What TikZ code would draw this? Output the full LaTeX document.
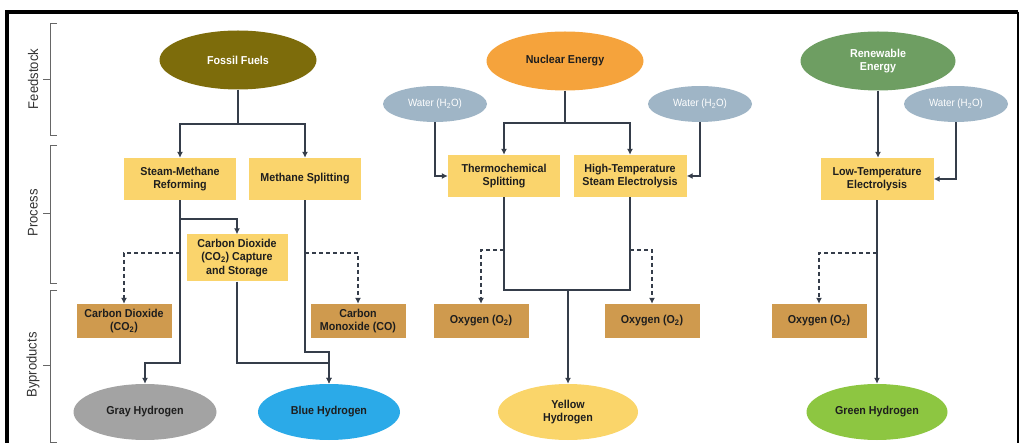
\documentclass[tikz,border=0pt]{standalone}
\usepackage{fontspec}
\setmainfont{Liberation Sans}[FakeStretch=0.93]
\usetikzlibrary{arrows.meta,positioning,calc,shapes.geometric}

\definecolor{fossilcol}{HTML}{7D6C0B}
\definecolor{nuclearcol}{HTML}{F5A33C}
\definecolor{renewcol}{HTML}{6E9E62}
\definecolor{watercol}{HTML}{9FB5C6}
\definecolor{proccol}{HTML}{FAD46C}
\definecolor{bycol}{HTML}{CF9A4E}
\definecolor{graycol}{HTML}{A3A3A3}
\definecolor{bluecol}{HTML}{2BAAE8}
\definecolor{yellowcol}{HTML}{FAD56A}
\definecolor{greencol}{HTML}{8DC641}
\definecolor{linecol}{HTML}{353D4A}
\definecolor{textcol}{HTML}{1E1E1E}

\begin{document}
\begin{tikzpicture}[
    x=1pt, y=-1pt,
    font=\fontsize{11.5}{13.5}\selectfont\bfseries,
    arrow/.style={-{Latex[length=6pt,width=6pt]}, line width=1.2pt, draw=linecol},
    dasharrow/.style={arrow, dash pattern=on 4pt off 3pt},
    link/.style={line width=1.2pt, draw=linecol},
    bracket/.style={line width=0.9pt, draw=gray!80!black},
    sidelabel/.style={font=\fontsize{14}{16}\selectfont, text=gray!40!black, rotate=90},
    srcell/.style={ellipse, inner sep=0pt, minimum width=157pt, minimum height=59pt, align=center, text=white},
    waterell/.style={ellipse, inner sep=0pt, fill=watercol, minimum width=104pt, minimum height=36pt,
        text=white, font=\fontsize{10.5}{12}\selectfont},
    hydell/.style={ellipse, inner sep=0pt, minimum width=142pt, minimum height=56pt, align=center, text=textcol},
    procbox/.style={fill=proccol, minimum width=112pt, minimum height=42pt, inner sep=2pt, align=center, text=textcol},
    bybox/.style={fill=bycol, minimum width=95pt, minimum height=34pt, inner sep=2pt, align=center, text=textcol}
]
\useasboundingbox (0,0) rectangle (1022,443);

% frame
\draw[line width=4pt] (7,450) -- (7,12) -- (1018,12);
\draw[line width=2pt] (1018,12) -- (1018,450);

% stage brackets
\draw[bracket] (57,23) -- (50,23) -- (50,135) -- (57,135);
\draw[bracket] (50,79) -- (43,79);
\draw[bracket] (57,145) -- (50,145) -- (50,283) -- (57,283);
\draw[bracket] (50,213) -- (43,213);
\draw[bracket] (57,290) -- (50,290) -- (50,442) -- (57,442);
\draw[bracket] (50,365) -- (43,365);
\node[sidelabel] (lblfeed) at (33,79) {Feedstock};
\node[sidelabel] (lblproc) at (33,213) {Process};
\node[sidelabel] (lblby) at (33,365) {Byproducts};

% feedstock
\node[srcell, fill=fossilcol] (fossil) at (238,60) {Fossil Fuels};
\node[srcell, fill=nuclearcol, text=textcol] (nuclear) at (565,61) {Nuclear Energy};
\node[srcell, fill=renewcol, minimum width=155pt] (renew) at (878,61) {Renewable\\Energy};
\node[waterell] (waterA) at (435,104) {Water (H\textsubscript{2}O)};
\node[waterell] (waterB) at (700,104) {Water (H\textsubscript{2}O)};
\node[waterell] (waterC) at (956,104) {Water (H\textsubscript{2}O)};

% process
\node[procbox] (smr) at (180,179) {Steam-Methane\\Reforming};
\node[procbox] (msplit) at (305,179) {Methane Splitting};
\node[procbox, minimum width=101pt, minimum height=47pt] (ccs) at (237,258) {Carbon Dioxide\\(CO\textsubscript{2}) Capture\\and Storage};
\node[procbox] (thermo) at (504,176) {Thermochemical\\Splitting};
\node[procbox, minimum width=113pt] (htse) at (630,176) {High-Temperature\\Steam Electrolysis};
\node[procbox, minimum width=113pt] (lte) at (877,179) {Low-Temperature\\Electrolysis};

% byproducts
\node[bybox] (co2) at (124,321) {Carbon Dioxide\\(CO\textsubscript{2})};
\node[bybox] (co) at (358,321) {Carbon\\Monoxide (CO)};
\node[bybox] (oxA) at (481,321) {Oxygen (O\textsubscript{2})};
\node[bybox] (oxB) at (652,321) {Oxygen (O\textsubscript{2})};
\node[bybox] (oxC) at (819,321) {Oxygen (O\textsubscript{2})};

% hydrogen
\node[hydell, fill=graycol, minimum width=143pt] (gray) at (145,412) {Gray Hydrogen};
\node[hydell, fill=bluecol] (blue) at (329,412) {Blue Hydrogen};
\node[hydell, fill=yellowcol, minimum width=140pt] (yellow) at (568,412) {Yellow\\Hydrogen};
\node[hydell, fill=greencol, minimum width=141pt] (green) at (877,412) {Green Hydrogen};

% fossil paths
\coordinate (fsplit) at (238,124);
\draw[link] (fossil.south) -- (fsplit);
\draw[arrow] (fsplit) -| (smr.north);
\draw[arrow] (fsplit) -| (msplit.north);
\draw[arrow] (smr.south) -- (smr.south |- 0,219) -| (ccs.north);
\draw[arrow] (smr.south) -- (smr.south |- 0,363) -| (gray.north);
\draw[arrow] (ccs.south) -- (ccs.south |- 0,363) -| (blue.north);
\draw[arrow] (msplit.south) -- (msplit.south |- 0,352) -| (blue.north);
\draw[dasharrow] (smr.south |- 0,253) -| (co2.north);
\draw[dasharrow] (msplit.south |- 0,253) -| (co.north);

% nuclear paths
\coordinate (nsplit) at (565,123);
\coordinate (nmerge) at (568,290);
\draw[link] (nuclear.south) -- (nsplit);
\draw[arrow] (nsplit) -| (thermo.north);
\draw[arrow] (nsplit) -| (htse.north);
\draw[arrow] (waterA.south) |- (thermo.west);
\draw[arrow] (waterB.south) |- (htse.east);
\draw[link] (thermo.south) |- (nmerge) -| (htse.south);
\draw[arrow] (nmerge) -- (yellow.north);
\draw[dasharrow] (thermo.south |- 0,250) -| (oxA.north);
\draw[dasharrow] (htse.south |- 0,250) -| (oxB.north);

% renewable paths
\draw[arrow] (renew.south) -- (renew.south |- lte.north);
\draw[arrow] (waterC.south) |- (lte.east);
\draw[arrow] (lte.south) -- (green.north);
\draw[dasharrow] (lte.south |- 0,253) -| (oxC.north);

\end{tikzpicture}
\end{document}
